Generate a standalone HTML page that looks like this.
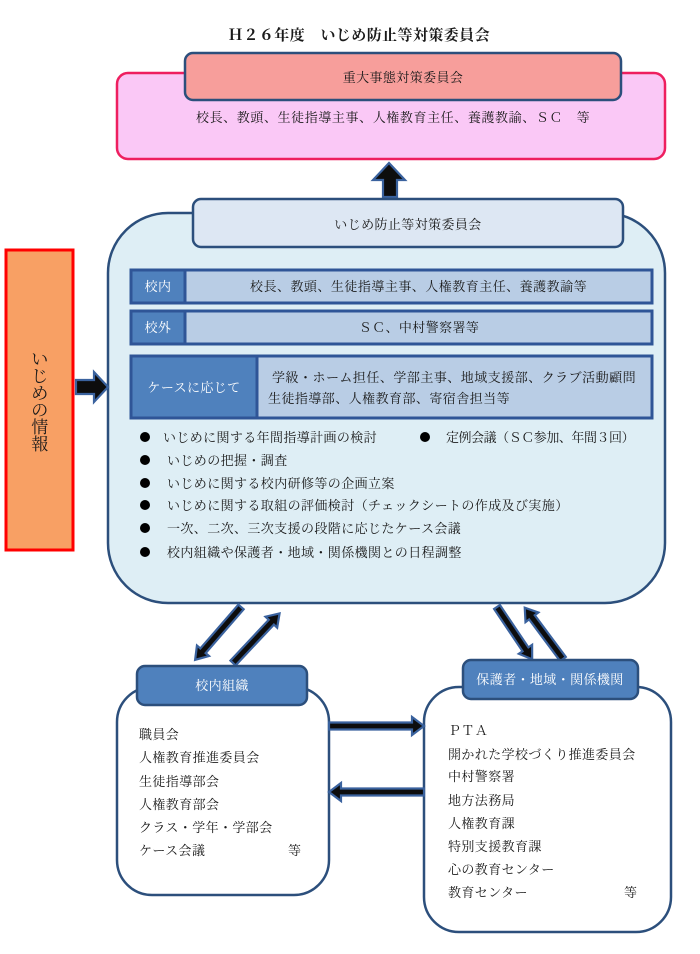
<!DOCTYPE html>
<html><head><meta charset="utf-8">
<style>
html,body{margin:0;padding:0;background:#fff;}
svg{display:block;}
text{font-family:"Liberation Serif","Noto Serif CJK JP","Noto Serif CJK SC",serif;font-size:13px;fill:#1a1a1a;letter-spacing:0.4px;}
.w{fill:#fff;}
.arr{fill:#0d0d0d;stroke:#3a629e;stroke-width:2.2;stroke-linejoin:miter;}
</style></head>
<body>
<svg width="700" height="954" viewBox="0 0 700 954" xmlns="http://www.w3.org/2000/svg">
<!-- Title -->
<text x="228" y="40" style="font-size:15px;font-weight:bold" textLength="262" lengthAdjust="spacing">Ｈ２６年度　いじめ防止等対策委員会</text>

<!-- Pink box -->
<rect x="117" y="73" width="548" height="86" rx="11" fill="#fac8f6" stroke="#ee1f5f" stroke-width="2.5"/>
<rect x="185" y="53" width="436" height="47" rx="8" fill="#f79e9b" stroke="#2c4f7c" stroke-width="2.5"/>
<text x="403" y="82" text-anchor="middle">重大事態対策委員会</text>
<text x="196" y="122" textLength="394" lengthAdjust="spacing">校長、教頭、生徒指導主事、人権教育主任、養護教諭、ＳＣ　等</text>

<!-- Up arrow -->
<polygon class="arr" points="383,197 383,180 373,180 389,163 405,180 397,180 397,197"/>

<!-- Big box -->
<rect x="108" y="213" width="557" height="390" rx="60" fill="#deeef5" stroke="#2c4f7c" stroke-width="2.5"/>
<rect x="193" y="199" width="430" height="48" rx="8" fill="#dde7f3" stroke="#2c4f7c" stroke-width="2.5"/>
<text x="408" y="229" text-anchor="middle">いじめ防止等対策委員会</text>

<!-- Rows -->
<rect x="131" y="270" width="521" height="33" fill="#b9cde5" stroke="#2f5597" stroke-width="3"/>
<rect x="131" y="270" width="54" height="33" fill="#4f81bd" stroke="#2f5597" stroke-width="3"/>
<text class="w" x="158" y="291" text-anchor="middle">校内</text>
<text x="250" y="291" textLength="337" lengthAdjust="spacing">校長、教頭、生徒指導主事、人権教育主任、養護教諭等</text>

<rect x="131" y="311" width="521" height="33" fill="#b9cde5" stroke="#2f5597" stroke-width="3"/>
<rect x="131" y="311" width="54" height="33" fill="#4f81bd" stroke="#2f5597" stroke-width="3"/>
<text class="w" x="158" y="332" text-anchor="middle">校外</text>
<text x="419" y="332" text-anchor="middle">ＳＣ、中村警察署等</text>

<rect x="131" y="356" width="521" height="62" fill="#b9cde5" stroke="#2f5597" stroke-width="3"/>
<rect x="131" y="356" width="126" height="62" fill="#4f81bd" stroke="#2f5597" stroke-width="3"/>
<text class="w" x="194" y="392" text-anchor="middle">ケースに応じて</text>
<text x="272" y="382" textLength="364" lengthAdjust="spacing">学級・ホーム担任、学部主事、地域支援部、クラブ活動顧問</text>
<text x="268" y="403" textLength="242" lengthAdjust="spacing">生徒指導部、人権教育部、寄宿舎担当等</text>

<!-- Bullets -->
<g fill="#000">
<circle cx="145" cy="437" r="5"/>
<circle cx="145" cy="460" r="5"/>
<circle cx="145" cy="483" r="5"/>
<circle cx="145" cy="505" r="5"/>
<circle cx="145" cy="528" r="5"/>
<circle cx="145" cy="552" r="5"/>
<circle cx="425" cy="437" r="5"/>
</g>
<text x="163" y="442" textLength="214" lengthAdjust="spacing">いじめに関する年間指導計画の検討</text>
<text x="167" y="465">いじめの把握・調査</text>
<text x="167" y="488">いじめに関する校内研修等の企画立案</text>
<text x="167" y="510">いじめに関する取組の評価検討（チェックシートの作成及び実施）</text>
<text x="167" y="533">一次、二次、三次支援の段階に応じたケース会議</text>
<text x="167" y="557">校内組織や保護者・地域・関係機関との日程調整</text>
<text x="446" y="442" textLength="189" lengthAdjust="spacing">定例会議（ＳＣ参加、年間３回）</text>

<!-- Orange info box -->
<rect x="6" y="250" width="67" height="300" fill="#f8a064" stroke="#ff0000" stroke-width="3"/>
<g style="font-size:17px">
<text x="40" y="365" text-anchor="middle" style="font-size:17px">い</text>
<text x="40" y="382" text-anchor="middle" style="font-size:17px">じ</text>
<text x="40" y="399" text-anchor="middle" style="font-size:17px">め</text>
<text x="40" y="416" text-anchor="middle" style="font-size:17px">の</text>
<text x="40" y="433" text-anchor="middle" style="font-size:17px">情</text>
<text x="40" y="450" text-anchor="middle" style="font-size:17px">報</text>
</g>

<!-- Right arrow into big box -->
<polygon class="arr" points="76,380 94,380 94,372 108,387 94,402 94,394 76,394"/>

<!-- Diagonal arrows -->
<g transform="translate(241,607) rotate(130.96)"><polygon class="arr" points="0,-3.5 58,-3.5 58,-8 70,0 58,8 58,3.5 0,3.5"/></g>
<g transform="translate(233,663) rotate(-46.78)"><polygon class="arr" points="0,-3.5 56,-3.5 56,-8 68,0 56,8 56,3.5 0,3.5"/></g>
<g transform="translate(497,607) rotate(56.06)"><polygon class="arr" points="0,-3.5 51,-3.5 51,-8 63,0 51,8 51,3.5 0,3.5"/></g>
<g transform="translate(563,659) rotate(-126.7)"><polygon class="arr" points="0,-3.5 52,-3.5 52,-8 64,0 52,8 52,3.5 0,3.5"/></g>

<!-- Bottom left box -->
<rect x="117" y="687" width="212" height="208" rx="35" fill="#fff" stroke="#2c4f7c" stroke-width="2.5"/>
<rect x="137" y="666" width="170" height="39" rx="8" fill="#4f81bd" stroke="#2c4f7c" stroke-width="2.5"/>
<text class="w" x="222" y="690" text-anchor="middle">校内組織</text>
<text x="139" y="739">職員会</text>
<text x="139" y="762">人権教育推進委員会</text>
<text x="139" y="786">生徒指導部会</text>
<text x="139" y="809">人権教育部会</text>
<text x="139" y="832">クラス・学年・学部会</text>
<text x="139" y="855">ケース会議</text>
<text x="288" y="855">等</text>

<!-- Bottom right box -->
<rect x="424" y="687" width="247" height="245" rx="35" fill="#fff" stroke="#2c4f7c" stroke-width="2.5"/>
<rect x="463" y="660" width="175" height="39" rx="8" fill="#4f81bd" stroke="#2c4f7c" stroke-width="2.5"/>
<text class="w" x="550" y="684" text-anchor="middle">保護者・地域・関係機関</text>
<text x="448" y="735">ＰＴＡ</text>
<text x="448" y="759">開かれた学校づくり推進委員会</text>
<text x="448" y="781">中村警察署</text>
<text x="448" y="805">地方法務局</text>
<text x="448" y="828">人権教育課</text>
<text x="448" y="851">特別支援教育課</text>
<text x="448" y="874">心の教育センター</text>
<text x="448" y="897">教育センター</text>
<text x="624" y="897">等</text>

<!-- Horizontal arrows -->
<polygon class="arr" points="329,722.5 412,722.5 412,717 424,726 412,735 412,729.5 329,729.5"/>
<polygon class="arr" points="424,788.5 341,788.5 341,783 329,792 341,801 341,795.5 424,795.5"/>
</svg>
</body></html>
